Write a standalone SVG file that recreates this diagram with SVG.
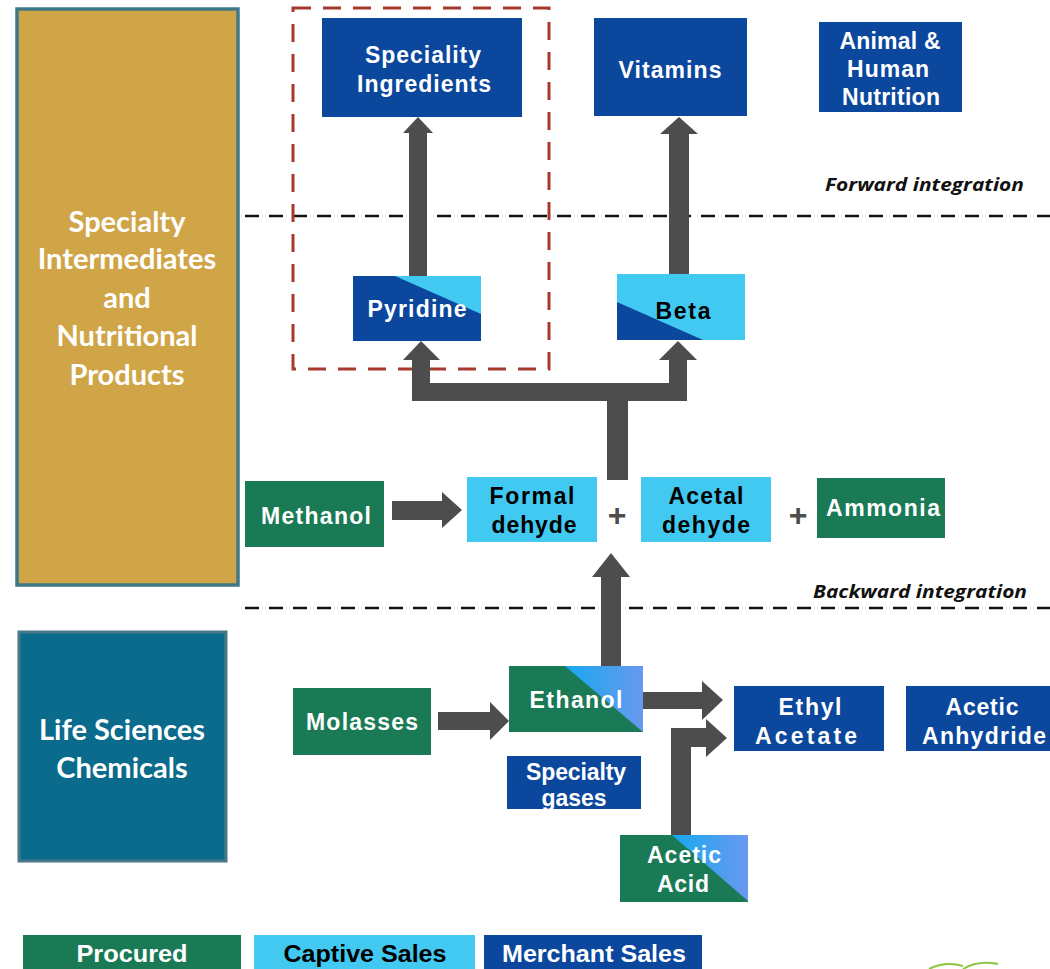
<svg xmlns="http://www.w3.org/2000/svg" width="1050" height="969" viewBox="0 0 1050 969">
<defs>
<style>
.nd{font-family:"Liberation Sans",Arial,sans-serif;font-weight:bold;text-anchor:middle;font-size:23px;}
.w{fill:#ffffff;}
.k{fill:#000000;}
.pan{font-family:Lato,"Open Sans",sans-serif;font-weight:bold;text-anchor:middle;fill:#ffffff;font-size:29px;}
.dk{fill:#0A479D;}
.lt{fill:#41C9F2;}
.gr{fill:#1A7A56;}
.arr{fill:#4D4D4D;}
.note{font-family:"Open Sans",Lato,sans-serif;font-weight:bold;font-style:italic;font-size:18px;fill:#111;text-anchor:end;}
.sep{stroke:#111;stroke-width:2.5;stroke-dasharray:14 10;fill:none;}
.plus{font-family:"Liberation Sans",Arial,sans-serif;font-weight:bold;text-anchor:middle;font-size:32px;fill:#4D4D4D;}
.leg{font-family:"Liberation Sans",Arial,sans-serif;font-weight:bold;text-anchor:middle;font-size:23px;}
</style>
<linearGradient id="tg" x1="0" y1="0" x2="1" y2="0">
<stop offset="0" stop-color="#16A9EE"/>
<stop offset="1" stop-color="#6A98F0"/>
</linearGradient>
</defs>
<rect width="1050" height="969" fill="#ffffff"/>

<g id="panel-specialty">
<rect x="17" y="9" width="221" height="576" fill="#CFA548" stroke="#3F7888" stroke-width="3.5"/>
<text class="pan" x="127" y="232">Specialty</text>
<text class="pan" x="127" y="269">Intermediates</text>
<text class="pan" x="127" y="308">and</text>
<text class="pan" x="127" y="346">Nutritional</text>
<text class="pan" x="127" y="385">Products</text>
</g>

<g id="panel-life">
<rect x="19" y="632" width="207" height="229" fill="#0B6B8C" stroke="#4A7888" stroke-width="3"/>
<text class="pan" x="122" y="740">Life Sciences</text>
<text class="pan" x="122" y="778">Chemicals</text>
</g>

<g id="separators">
<line class="sep" x1="245" y1="216" x2="1050" y2="216"/>
<line class="sep" x1="245" y1="608" x2="1050" y2="608"/>
<text class="note" x="1024" y="191" textLength="199" lengthAdjust="spacingAndGlyphs">Forward integration</text>
<text class="note" x="1027" y="598" textLength="214" lengthAdjust="spacingAndGlyphs">Backward integration</text>
</g>

<g id="highlight">
<rect x="293" y="8" width="256" height="361" fill="none" stroke="#A8392E" stroke-width="3" stroke-dasharray="18 12"/>
</g>

<g id="connectors">
<polygon class="arr" points="409,276 409,133 403,133 418,117 433,133 427,133 427,276"/>
<polygon class="arr" points="669,274 669,134 660,134 679,117 698,134 689,134 689,274"/>
<path class="arr" d="M607 480 L607 401 L412 401 L412 360 L403 360 L421 341 L440 360 L430 360 L430 383 L669 383 L669 360 L659 360 L678 341 L697 360 L687 360 L687 401 L628 401 L628 480 Z"/>
<path class="arr" d="M392 501 L442 501 L442 492 L462 510 L442 528 L442 520 L392 520 Z"/>
<path class="arr" d="M601 666 L601 577 L592 577 L611 553 L630 577 L621 577 L621 666 Z"/>
<path class="arr" d="M438 712 L490 712 L490 702 L509 721 L490 740 L490 730 L438 730 Z"/>
<path class="arr" d="M643 692 L702 692 L702 681 L723 700 L702 720 L702 709 L643 709 Z"/>
<path class="arr" d="M671 835 L671 728 L706 728 L706 719 L727 738 L706 757 L706 747 L691 747 L691 835 Z"/>
</g>

<g id="speciality-ingredients">
<rect class="dk" x="322" y="18" width="200" height="99"/>
<text class="nd w" x="423" y="63" textLength="116">Speciality</text>
<text class="nd w" x="424" y="92" textLength="134">Ingredients</text>
</g>

<g id="vitamins">
<rect class="dk" x="594" y="18" width="153" height="98"/>
<text class="nd w" x="670" y="78" textLength="103">Vitamins</text>
</g>

<g id="animal-human-nutrition">
<rect class="dk" x="819" y="22" width="143" height="90"/>
<text class="nd w" x="890" y="49" font-size="21" textLength="101">Animal  &amp;</text>
<text class="nd w" x="888" y="77" font-size="21" textLength="82">Human</text>
<text class="nd w" x="891" y="105" font-size="21" textLength="98">Nutrition</text>
</g>

<g id="pyridine">
<rect class="dk" x="353" y="276" width="128" height="65"/>
<polygon class="lt" points="395,276 481,276 481,314"/>
<text class="nd w" x="417" y="317" textLength="99">Pyridine</text>
</g>

<g id="beta">
<rect class="lt" x="617" y="274" width="128" height="66"/>
<polygon class="dk" points="617,302 617,340 703,340"/>
<text class="nd k" x="683" y="319" textLength="55">Beta</text>
</g>

<g id="methanol">
<rect class="gr" x="245" y="481" width="139" height="66"/>
<text class="nd w" x="316" y="524" textLength="110">Methanol</text>
</g>

<g id="formaldehyde">
<rect class="lt" x="467" y="477" width="130" height="65"/>
<text class="nd k" x="532" y="504" textLength="85">Formal</text>
<text class="nd k" x="534" y="533" textLength="85">dehyde</text>
</g>

<text class="plus" x="617" y="526">+</text>

<g id="acetaldehyde">
<rect class="lt" x="641" y="477" width="130" height="65"/>
<text class="nd k" x="706" y="504" textLength="75">Acetal</text>
<text class="nd k" x="706" y="533" textLength="88">dehyde</text>
</g>

<text class="plus" x="798" y="526">+</text>

<g id="ammonia">
<rect class="gr" x="817" y="478" width="128" height="60"/>
<text class="nd w" x="883" y="516" textLength="114">Ammonia</text>
</g>

<g id="molasses">
<rect class="gr" x="293" y="688" width="138" height="67"/>
<text class="nd w" x="362" y="730" textLength="112">Molasses</text>
</g>

<g id="ethanol">
<rect class="gr" x="509" y="666" width="134" height="66"/>
<polygon fill="url(#tg)" points="565,666 643,666 643,732"/>
<text class="nd w" x="576" y="708" textLength="93">Ethanol</text>
</g>

<g id="specialty-gases">
<rect class="dk" x="507" y="756" width="134" height="53"/>
<text class="nd w" x="576" y="780" font-size="20" textLength="100">Specialty</text>
<text class="nd w" x="574" y="806" font-size="20" textLength="65">gases</text>
</g>

<g id="acetic-acid">
<rect class="gr" x="620" y="835" width="128" height="67"/>
<polygon fill="url(#tg)" points="672,835 748,835 748,901"/>
<text class="nd w" x="684" y="863" textLength="74">Acetic</text>
<text class="nd w" x="683" y="892" textLength="52">Acid</text>
</g>

<g id="ethyl-acetate">
<rect class="dk" x="734" y="686" width="150" height="65"/>
<text class="nd w" x="810" y="715" textLength="63">Ethyl</text>
<text class="nd w" x="806" y="744" textLength="102">Acetate</text>
</g>

<g id="acetic-anhydride">
<rect class="dk" x="906" y="686" width="144" height="65"/>
<text class="nd w" x="982" y="715" textLength="73">Acetic</text>
<text class="nd w" x="984" y="744" textLength="124">Anhydride</text>
</g>

<g id="legend">
<rect class="gr" x="23" y="935" width="218" height="34"/>
<text class="leg w" x="132" y="962" textLength="111" lengthAdjust="spacingAndGlyphs">Procured</text>
<rect class="lt" x="254" y="935" width="221" height="34"/>
<text class="leg k" x="365" y="962" textLength="163" lengthAdjust="spacingAndGlyphs">Captive Sales</text>
<rect class="dk" x="484" y="935" width="218" height="34"/>
<text class="leg w" x="594" y="962" textLength="184" lengthAdjust="spacingAndGlyphs">Merchant Sales</text>
</g>

<g id="logo-fragment" fill="none" stroke="#8CC63F" stroke-width="2">
<path d="M929 969 Q945 961 963 966"/>
<path d="M963 969 Q978 960 998 964"/>
</g>
</svg>
